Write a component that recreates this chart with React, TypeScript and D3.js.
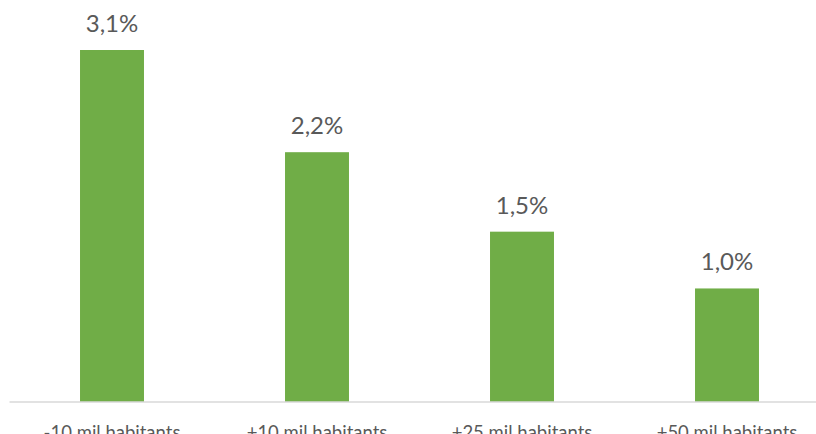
import React from "react";
import * as d3 from "d3";

const categories = ["-10 mil habitants", "+10 mil habitants", "+25 mil habitants", "+50 mil habitants"];
const values = [3.1, 2.2, 1.5, 1.0];
const valueLabels = ["3,1%", "2,2%", "1,5%", "1,0%"];

export default function App() {
  const W = 816, H = 434;
  const left = 9.5, right = 829.5, baseY = 402;
  const x = d3.scaleBand<string>().domain(categories).range([left, right]).paddingInner(0.688).paddingOuter(0.344);
  const y = d3.scaleLinear().domain([0, 3.1]).range([baseY, 50]);
  const font = "Lato, 'Open Sans', sans-serif";
  return (
    <svg width={W} height={H} style={{ position: "absolute", left: 0, top: 0, background: "#fff" }}>
      {categories.map((c, i) => (
        <g key={c}>
          <rect x={x(c)!} y={y(values[i])} width={x.bandwidth()} height={baseY - y(values[i])} fill="#70AD47" />
          <text x={x(c)! + x.bandwidth() / 2} y={y(values[i]) - 18} textAnchor="middle" fontFamily={font} fontSize={24} fill="#595959">{valueLabels[i]}</text>
          <text x={x(c)! + x.bandwidth() / 2} y={438.5} textAnchor="middle" fontFamily={font} fontSize={18.5} fill="#595959">{c}</text>
        </g>
      ))}
      <line x1={left} x2={W} y1={baseY} y2={baseY} stroke="#D9D9D9" strokeWidth={1.5} />
    </svg>
  );
}
